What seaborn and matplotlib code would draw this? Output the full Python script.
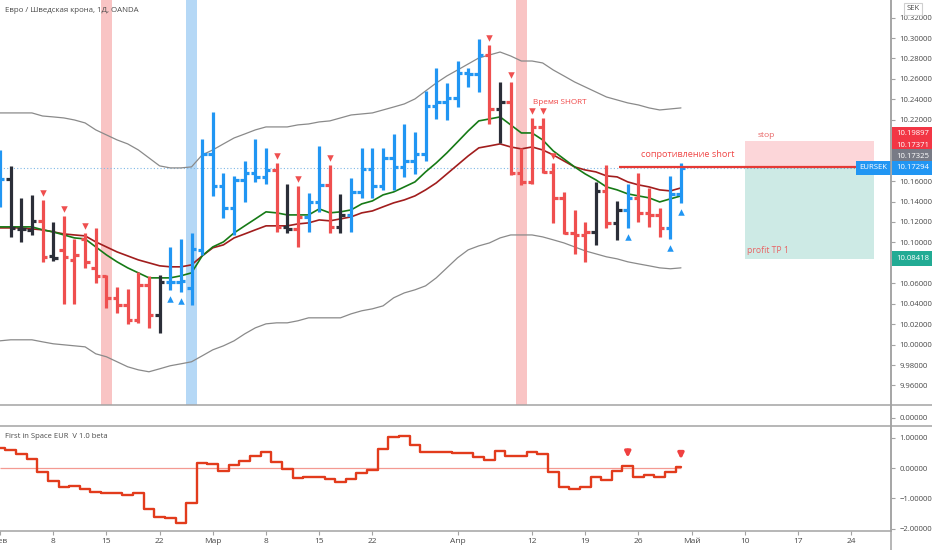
import numpy as np
import pandas as pd
import seaborn as sns
import matplotlib.pyplot as plt
from matplotlib.lines import Line2D
from matplotlib.patches import Rectangle
from matplotlib.ticker import FuncFormatter
from matplotlib.transforms import blended_transform_factory

# EUR/SEK daily bars, index = trading day starting Mon 1 Feb 2021
opens = [10.1465, 10.1621, 10.1132, 10.1123, 10.1211, 10.0868, 10.0927, 10.0829, 10.1034, 10.0751,
         10.0673, 10.0458, 10.0389, 10.0242, 10.0585, 10.0291, 10.0614, 10.0614, 10.0555, 10.0927,
         10.1866, 10.1553, 10.1338, 10.1612, 10.1680, 10.1641, 10.1709, 10.1152, 10.1132, 10.1250,
         10.1396, 10.1563, 10.1152, 10.1269, 10.1494, 10.1719, 10.1553, 10.1827, 10.1739, 10.1797,
         10.1866, 10.2335, 10.2374, 10.2414, 10.2658, 10.2648, 10.2834, 10.2306, 10.2374, 10.1680,
         10.1592, 10.2130, 10.1690, 10.1436, 10.1093, 10.1073, 10.1103, 10.1504, 10.1191, 10.1318,
         10.1436, 10.1289, 10.1269, 10.1142, 10.1475]
highs = [10.1905, 10.1749, 10.1436, 10.1465, 10.1416, 10.1201, 10.1259, 10.1034, 10.1093, 10.1142,
         10.0683, 10.0565, 10.0546, 10.0712, 10.0673, 10.0683, 10.0956, 10.1034, 10.1093, 10.2013,
         10.2277, 10.1680, 10.1651, 10.1797, 10.2013, 10.1925, 10.1778, 10.1572, 10.1553, 10.1484,
         10.1944, 10.1758, 10.1475, 10.1631, 10.1925, 10.1925, 10.1925, 10.2061, 10.2159, 10.2081,
         10.2482, 10.2707, 10.2560, 10.2775, 10.2707, 10.2991, 10.2932, 10.2570, 10.2570, 10.1925,
         10.2218, 10.2218, 10.1778, 10.1494, 10.1318, 10.1201, 10.1592, 10.1758, 10.1406, 10.1572,
         10.1680, 10.1533, 10.1338, 10.1651, 10.1778]
lows = [10.1348, 10.1054, 10.1005, 10.1073, 10.0810, 10.0820, 10.0399, 10.0399, 10.0751, 10.0604,
        10.0360, 10.0311, 10.0203, 10.0213, 10.0164, 10.0115, 10.0536, 10.0516, 10.0389, 10.0878,
        10.1455, 10.1240, 10.1073, 10.1396, 10.1592, 10.1572, 10.1103, 10.1093, 10.0956, 10.1103,
        10.1299, 10.1093, 10.1093, 10.1103, 10.1436, 10.1436, 10.1514, 10.1514, 10.1641, 10.1670,
        10.1797, 10.2208, 10.2198, 10.2325, 10.2521, 10.2472, 10.2159, 10.1974, 10.1661, 10.1563,
        10.1572, 10.1680, 10.1191, 10.1083, 10.0888, 10.0810, 10.0976, 10.1142, 10.1025, 10.1142,
        10.1201, 10.1152, 10.1054, 10.1034, 10.1387]
closes = [10.1621, 10.1142, 10.1132, 10.1211, 10.0859, 10.0849, 10.0859, 10.0878, 10.0810, 10.0673,
          10.0458, 10.0389, 10.0242, 10.0585, 10.0291, 10.0614, 10.0614, 10.0624, 10.0937, 10.1866,
          10.1553, 10.1338, 10.1612, 10.1680, 10.1641, 10.1709, 10.1152, 10.1132, 10.1250, 10.1396,
          10.1563, 10.1152, 10.1269, 10.1494, 10.1719, 10.1553, 10.1827, 10.1739, 10.1797, 10.1866,
          10.2335, 10.2374, 10.2414, 10.2658, 10.2648, 10.2834, 10.2306, 10.2374, 10.1680, 10.1592,
          10.2130, 10.1690, 10.1436, 10.1093, 10.1073, 10.1103, 10.1504, 10.1191, 10.1318, 10.1436,
          10.1289, 10.1269, 10.1142, 10.1475, 10.17294]
# B = blue (bull), R = red (bear), K = black (neutral)
bar_colors = "BKKKRKRRRR" "RRRRRKBBBB" "BBBBBBRKRB" "BRKBBBBBBB" "BBBBBBRKRR" "RRRRRRKRKB" "RRRBB"

ma_fast = [10.1152, 10.1152, 10.1152, 10.1152, 10.1123, 10.1103, 10.1073, 10.1044, 10.1034, 10.0956,
           10.0878, 10.0810, 10.0751, 10.0702, 10.0653, 10.0653, 10.0653, 10.0673, 10.0702, 10.0868,
           10.0956, 10.1005, 10.1093, 10.1162, 10.1230, 10.1299, 10.1289, 10.1269, 10.1269, 10.1269,
           10.1328, 10.1289, 10.1299, 10.1318, 10.1377, 10.1406, 10.1465, 10.1494, 10.1543, 10.1592,
           10.1690, 10.1778, 10.1876, 10.1983, 10.2091, 10.2189, 10.2208, 10.2228, 10.2150, 10.2071,
           10.2071, 10.2003, 10.1895, 10.1817, 10.1739, 10.1670, 10.1612, 10.1543, 10.1514, 10.1475,
           10.1455, 10.1436, 10.1396, 10.1426, 10.1455]
ma_slow = [10.1142, 10.1142, 10.1142, 10.1132, 10.1123, 10.1103, 10.1083, 10.1073, 10.1064, 10.1005,
           10.0956, 10.0907, 10.0868, 10.0829, 10.0800, 10.0771, 10.0761, 10.0761, 10.0780, 10.0868,
           10.0947, 10.0976, 10.1044, 10.1083, 10.1123, 10.1162, 10.1162, 10.1162, 10.1181, 10.1191,
           10.1220, 10.1211, 10.1230, 10.1250, 10.1289, 10.1308, 10.1348, 10.1387, 10.1416, 10.1455,
           10.1514, 10.1582, 10.1670, 10.1758, 10.1846, 10.1925, 10.1944, 10.1964, 10.1934, 10.1915,
           10.1934, 10.1905, 10.1856, 10.1797, 10.1739, 10.1709, 10.1690, 10.1651, 10.1641, 10.1592,
           10.1563, 10.1543, 10.1514, 10.1504, 10.1533]
band_upper = [10.2267, 10.2267, 10.2267, 10.2267, 10.2237, 10.2228, 10.2218, 10.2198, 10.2169, 10.2101,
              10.2052, 10.2003, 10.1964, 10.1905, 10.1827, 10.1749, 10.1729, 10.1729, 10.1739, 10.1856,
              10.1905, 10.1964, 10.2022, 10.2061, 10.2101, 10.2130, 10.2130, 10.2130, 10.2150, 10.2159,
              10.2179, 10.2189, 10.2218, 10.2247, 10.2257, 10.2267, 10.2296, 10.2325, 10.2355, 10.2404,
              10.2482, 10.2560, 10.2629, 10.2687, 10.2746, 10.2805, 10.2834, 10.2863, 10.2824, 10.2775,
              10.2775, 10.2756, 10.2687, 10.2629, 10.2570, 10.2521, 10.2472, 10.2423, 10.2394, 10.2365,
              10.2345, 10.2316, 10.2296, 10.2306, 10.2316]
band_lower = [10.0037, 10.0047, 10.0047, 10.0047, 10.0027, 10.0008, 9.9998, 9.9988, 9.9978, 9.9910,
              9.9881, 9.9832, 9.9783, 9.9753, 9.9734, 9.9763, 9.9793, 9.9812, 9.9832, 9.9890,
              9.9949, 9.9988, 10.0037, 10.0105, 10.0164, 10.0203, 10.0213, 10.0213, 10.0233, 10.0262,
              10.0262, 10.0262, 10.0262, 10.0301, 10.0331, 10.0350, 10.0379, 10.0458, 10.0506, 10.0536,
              10.0575, 10.0653, 10.0751, 10.0849, 10.0927, 10.0966, 10.0995, 10.1044, 10.1073, 10.1073,
              10.1073, 10.1054, 10.1025, 10.0995, 10.0956, 10.0917, 10.0888, 10.0859, 10.0839, 10.0810,
              10.0790, 10.0771, 10.0751, 10.0742, 10.0751]

# "First in Space EUR" oscillator
fis = [0.65, 0.60, 0.45, 0.29, -0.14, -0.43, -0.64, -0.58, -0.68, -0.78,
       -0.84, -0.81, -0.90, -0.84, -1.35, -1.61, -1.65, -1.80, -1.17, 0.18,
       0.14, -0.10, 0.10, 0.24, 0.40, 0.54, 0.21, -0.03, -0.33, -0.31,
       -0.31, -0.35, -0.47, -0.37, -0.15, -0.06, 0.62, 1.01, 1.05, 0.76,
       0.52, 0.52, 0.52, 0.51, 0.50, 0.37, 0.26, 0.56, 0.41, 0.41,
       0.52, 0.45, -0.14, -0.62, -0.69, -0.62, -0.31, -0.40, -0.09, 0.07,
       -0.31, -0.24, -0.31, -0.12, 0.02]

sell_signals = [4, 6, 8, 26, 28, 31, 46, 48, 50, 51, 52]
buy_signals = [16, 17, 59, 63, 64]
red_days = [10, 49]
blue_days = [18]
fis_arrows = [59, 64]

# short position tool
entry_price = 10.17371
stop_price = 10.19897
target_price = 10.08418
pos_start, pos_end = 70, 82.1
resistance_start = 58.2

x_ticks = [0, 5, 10, 15, 20, 25, 30, 35, 43, 50, 55, 60, 65, 70, 75, 80]
x_labels = ['Фев', '8', '15', '22', 'Мар', '8', '15', '22', 'Апр', '12', '19', '26', 'Май', '10', '17', '24']
price_ticks = [9.96, 9.98, 10.00, 10.02, 10.04, 10.06, 10.10, 10.12, 10.14, 10.16,
               10.22, 10.24, 10.26, 10.28, 10.30, 10.32]
fis_ticks = [1, 0, -1, -2]

# coloured price-scale labels: (shown at, text, colour)
scale_labels = [(10.2061, '10.19897', '#f23645'),
                (10.1944, '10.17371', '#f23645'),
                (10.1837, '10.17325', '#787b86'),
                (10.1729, '10.17294', '#2196f3'),
                (10.0839, '10.08418', '#22ab94')]

sns.set_theme(style="white")
plt.rcParams['font.family'] = ['Open Sans', 'DejaVu Sans']

BLUE, RED, BLACK = '#2196f3', '#ef4f4f', '#2b2e38'
palette = {'B': BLUE, 'R': RED, 'K': BLACK}
GRID = '#a3a3a3'
TXT = '#4a4a4a'
SCALE_FS = 5.6

W, H = 932, 550
fig = plt.figure(figsize=(W / 100, H / 100), dpi=100)
axw = 891 / W
ax = fig.add_axes([0, 1 - 405 / H, axw, 405 / H])
ax0 = fig.add_axes([0, 1 - 426 / H, axw, 21 / H])
axi = fig.add_axes([0, 1 - 531 / H, axw, 105 / H])

xs = np.arange(len(closes))
df = pd.DataFrame({'idx': xs, 'open': opens, 'high': highs, 'low': lows, 'close': closes,
                   'fast': ma_fast, 'slow': ma_slow, 'upper': band_upper, 'lower': band_lower,
                   'fis': fis})
cols = [palette[c] for c in bar_colors]

# --- main price pane ---
for d in red_days:
    ax.axvspan(d - 0.5, d + 0.5, color='#f9c4c4', lw=0, zorder=0)
for d in blue_days:
    ax.axvspan(d - 0.5, d + 0.5, color='#b5d8f6', lw=0, zorder=0)

ax.axhline(closes[-1], color='#7fb8e6', lw=0.8, ls=(0, (1, 2)), zorder=1)

sns.lineplot(data=df, x='idx', y='upper', color='#8a8a8a', lw=0.9, ax=ax, zorder=2)
sns.lineplot(data=df, x='idx', y='lower', color='#8a8a8a', lw=0.9, ax=ax, zorder=2)
sns.lineplot(data=df, x='idx', y='slow', color='#a11d1d', lw=1.2, ax=ax, zorder=2)
sns.lineplot(data=df, x='idx', y='fast', color='#167a16', lw=1.2, ax=ax, zorder=2)

ax.vlines(xs, df['low'], df['high'], colors=cols, lw=2.3, zorder=3)
ax.hlines(df['open'], xs - 0.42, xs, colors=cols, lw=2.3, zorder=3)
ax.hlines(df['close'], xs, xs + 0.42, colors=cols, lw=2.3, zorder=3)

ax.scatter(sell_signals, df['high'].iloc[sell_signals] + 0.0066, marker='v', s=22,
           color=RED, lw=0, zorder=4)
ax.scatter(buy_signals, df['low'].iloc[buy_signals] - 0.0088, marker='^', s=22,
           color=BLUE, lw=0, zorder=4)

# position tool
ax.add_patch(Rectangle((pos_start, entry_price), pos_end - pos_start, stop_price - entry_price,
                       fc='#f23645', alpha=0.2, lw=0, zorder=1))
ax.add_patch(Rectangle((pos_start, target_price), pos_end - pos_start, entry_price - target_price,
                       fc='#089981', alpha=0.2, lw=0, zorder=1))
ax.hlines(entry_price, resistance_start, 84, color='#e53935', lw=1.6, zorder=3)

ax.text(50.05, 10.2365, 'Время SHORT', color='#f04848', fontsize=5.9, va='center', ha='left')
ax.text(60.2, 10.1856, 'сопротивление short', color='#f04848', fontsize=6.6, va='center', ha='left')
ax.text(71.2, 10.2042, 'stop', color='#e86464', fontsize=6.1, va='center', ha='left')
ax.text(70.16, 10.0917, 'profit TP 1', color='#e86464', fontsize=6.2, va='center', ha='left')

ax.set_ylim(9.9409, 10.3372)
ax.set_yticks(price_ticks)
ax.yaxis.set_major_formatter(FuncFormatter(lambda v, p: f'{v:.5f}'))

trans = blended_transform_factory(ax.transAxes, ax.transData)
for ypos, txt, c in scale_labels:
    ax.text(1.006, ypos, txt, transform=trans, ha='left', va='center', fontsize=SCALE_FS,
            color='white', clip_on=False,
            bbox=dict(boxstyle='square,pad=0.5', fc=c, ec='none'))
ax.text(0.996, scale_labels[3][0], 'EURSEK', transform=trans, ha='right', va='center',
        fontsize=SCALE_FS, color='white', bbox=dict(boxstyle='square,pad=0.5', fc=BLUE, ec='none'))

fig.text(5 / W, 1 - 11 / H, 'Евро / Шведская крона, 1Д, OANDA', fontsize=5.7, color=TXT, va='center')
fig.text(913 / W, 1 - 9 / H, 'SEK', fontsize=5.5, color=TXT, ha='center', va='center',
         bbox=dict(boxstyle='square,pad=0.3', fc='white', ec='#cfcfcf', lw=0.8))

# --- empty pane ---
ax0.set_ylim(-0.8, 1.3)
ax0.set_yticks([0])
ax0.set_yticklabels(['0.00000'])

# --- oscillator pane ---
axi.hlines(0, xs[0], xs[-1], color='#f49a92', lw=0.9, zorder=1)
sns.lineplot(data=df, x='idx', y='fis', drawstyle='steps-mid', color='#e23b1c', lw=1.7,
             ax=axi, zorder=2)
for a in fis_arrows:
    axi.annotate('', xy=(a, fis[a] + 0.18), xytext=(a, fis[a] + 0.62),
                 arrowprops=dict(arrowstyle='-|>', color='#f04040', lw=2.2, mutation_scale=8))
axi.set_ylim(-2.08, 1.39)
axi.set_yticks(fis_ticks)
axi.yaxis.set_major_formatter(FuncFormatter(lambda v, p: f'{v:.5f}'.replace('-', '\u2212')))
axi.text(0.006, 0.9, 'First in Space EUR  V 1.0 beta', transform=axi.transAxes,
         fontsize=5.5, color=TXT, va='center')

axi.set_xticks(x_ticks)
axi.set_xticklabels(x_labels)
axi.tick_params(axis='x', length=3, width=0.8, color=GRID, labelsize=6, labelcolor=TXT, pad=2,
                bottom=True)

for a in (ax, ax0, axi):
    a.set_facecolor('none')
    a.set_xlim(0.0, 83.74)
    a.set_xlabel('')
    a.set_ylabel('')
    a.yaxis.tick_right()
    a.tick_params(axis='y', length=3, width=0.8, color=GRID, labelsize=SCALE_FS, labelcolor=TXT,
                  pad=3, right=True, left=False)
    for s in ('top', 'left'):
        a.spines[s].set_visible(False)
    for s in ('right', 'bottom'):
        a.spines[s].set_color(GRID)
        a.spines[s].set_linewidth(1.1)
ax.set_xticks([])
ax0.set_xticks([])

# pane separators run under the price scale too
for yy in (405, 426):
    fig.add_artist(Line2D([axw, 1], [1 - yy / H, 1 - yy / H], color=GRID, lw=1.1))
fig.add_artist(Line2D([axw, axw], [0, 1], color=GRID, lw=1.1))

fig.savefig('out.png', dpi=100, facecolor='white')
